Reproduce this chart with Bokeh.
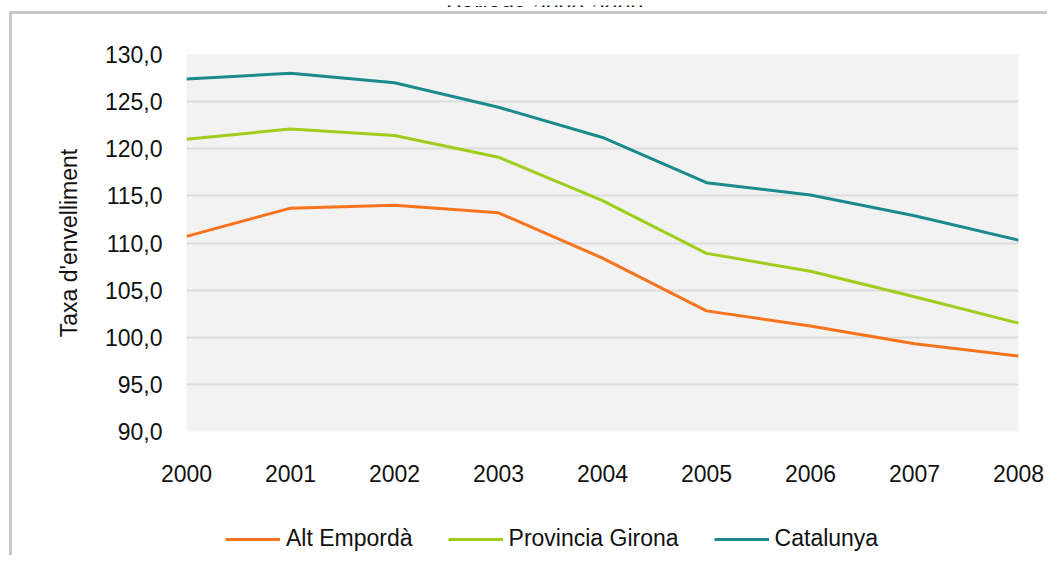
from bokeh.plotting import figure
from bokeh.layouts import column
from bokeh.models import (ColumnDataSource, FixedTicker, Legend, LegendItem)
from bokeh.core.properties import value
from bokeh.embed import file_html
from bokeh.resources import INLINE

# ---- data ----
years = [2000, 2001, 2002, 2003, 2004, 2005, 2006, 2007, 2008]
alt_emporda = [110.7, 113.7, 114.0, 113.2, 108.4, 102.8, 101.2, 99.3, 98.0]
provincia_girona = [121.0, 122.1, 121.4, 119.1, 114.5, 108.9, 107.0, 104.3, 101.5]
catalunya = [127.4, 128.0, 127.0, 124.4, 121.2, 116.4, 115.1, 112.9, 110.3]
series_names = ["Alt Empordà", "Provincia Girona", "Catalunya"]
series_colors = ["#f9731c", "#9fcd1b", "#1a8a8e"]
y_ticks = [90, 95, 100, 105, 110, 115, 120, 125, 130]
y_tick_labels = ["90,0", "95,0", "100,0", "105,0", "110,0", "115,0",
                 "120,0", "125,0", "130,0"]
x_tick_labels = [str(y) for y in years]
title_text = "Període 2000-2008"
y_axis_title = "Taxa d'envelliment"

FONT = "Liberation Sans"
FS = "23px"
W = 1047
BORDER = "#c8c8c8"

# ---- title strip (only lower part of the title is visible) ----
# note: the column aligns this strip's frame with the main chart's frame (186..1018)
t = figure(width=W, height=7, output_backend="svg", toolbar_location=None,
           x_range=(186, 1018), y_range=(0, 7), x_axis_type=None, y_axis_type=None,
           min_border=0)
t.outline_line_color = None
t.xgrid.visible = False
t.ygrid.visible = False
t.background_fill_color = None
t.border_fill_color = None
t.text(x=[543], y=[1.5], text=[title_text], text_font=value(FONT),
       text_font_size=FS, text_font_style="italic", text_align="center",
       text_baseline="alphabetic", text_color="#111111")

# ---- main chart ----
p = figure(width=W, height=484, output_backend="svg", toolbar_location=None,
           x_range=(2000, 2008), y_range=(90, 130),
           min_border_left=186, min_border_right=29,
           min_border_top=47, min_border_bottom=60)

p.background_fill_color = "#f2f2f2"
p.border_fill_color = None
p.outline_line_color = None

p.xgrid.grid_line_color = None
p.ygrid.grid_line_color = "#dcdcdc"
p.ygrid.grid_line_width = 2

p.yaxis.ticker = FixedTicker(ticks=y_ticks)
p.yaxis.major_label_overrides = {t_: l for t_, l in zip(y_ticks, y_tick_labels)}
p.xaxis.ticker = FixedTicker(ticks=years)
p.xaxis.major_label_overrides = {t_: l for t_, l in zip(years, x_tick_labels)}

for ax in (p.xaxis, p.yaxis):
    ax.axis_line_color = None
    ax.major_tick_line_color = None
    ax.minor_tick_line_color = None
    ax.major_tick_out = 0
    ax.minor_tick_out = 0
    ax.major_label_text_font = FONT
    ax.major_label_text_font_size = FS
    ax.major_label_text_color = "#111111"

p.xaxis.major_label_standoff = 33
p.yaxis.major_label_standoff = 24

p.yaxis.axis_label = y_axis_title
p.yaxis.axis_label_text_font = FONT
p.yaxis.axis_label_text_font_size = FS
p.yaxis.axis_label_text_font_style = "normal"
p.yaxis.axis_label_text_color = "#111111"
p.yaxis.axis_label_standoff = 20

src = ColumnDataSource(dict(year=years, alt=alt_emporda, gir=provincia_girona,
                            cat=catalunya))
cols = ["alt", "gir", "cat"]
for col, color in zip(cols, series_colors):
    p.line("year", col, source=src, line_color=color, line_width=3)

# ---- legend strip ----
# the strip's ranges lie outside the data, so its lines only serve as legend keys
lg = figure(width=W, height=64, output_backend="svg", toolbar_location=None,
            x_range=(0, 1), y_range=(0, 1), x_axis_type=None, y_axis_type=None,
            min_border=0)
lg.outline_line_color = None
lg.xgrid.visible = False
lg.ygrid.visible = False
lg.background_fill_color = None
lg.border_fill_color = None
proxies = [lg.line("year", col, source=src, line_color=c, line_width=3)
           for col, c in zip(cols, series_colors)]
legend = Legend(items=[LegendItem(label=n, renderers=[r])
                       for n, r in zip(series_names, proxies)],
                orientation="horizontal", location=(39, 3),
                label_text_font=FONT, label_text_font_size=FS,
                label_text_color="#111111",
                glyph_width=55, glyph_height=20, label_standoff=6,
                spacing=35, padding=0, margin=0,
                border_line_color=None, background_fill_alpha=0)
lg.add_layout(legend, "center")

layout = column(t, p, lg, spacing=0, styles={
    "background": (f"linear-gradient({BORDER}, {BORDER}) 9px 11px / 3px calc(100% - 11px) no-repeat, "
                   f"linear-gradient({BORDER}, {BORDER}) 9px 11px / calc(100% - 9px) 3px no-repeat, "
                   "white")})

open("out.html", "w").write(file_html(layout, INLINE))
